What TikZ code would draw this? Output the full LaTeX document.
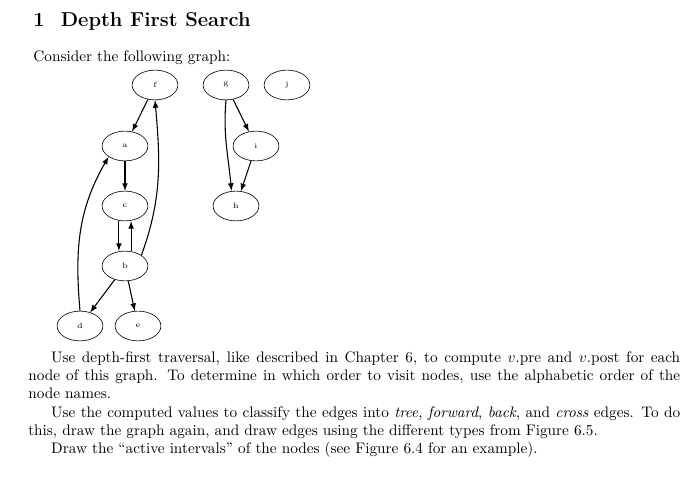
\documentclass[tikz,border=0pt]{standalone}
\usetikzlibrary{shapes.geometric}
\tikzstyle{vertex}=[draw, ellipse, minimum width=30pt, minimum height=19.5pt, inner sep=0pt, font=\tiny]
\tikzstyle{edge}=[draw, -latex, line width=0.25mm]
\begin{document}
\begin{tikzpicture}[x=0.655pt, y=-0.655pt]
	\useasboundingbox (0,0) rectangle (700,483);
	\node[anchor=base west, font=\fontsize{13.2}{16}\selectfont\bfseries] (title) at (28,27) {1\hspace{0.8em}Depth First Search};
	\node[anchor=base west] (intro) at (28,62) {Consider the following graph:};
	\foreach \pos/\name in {{(155,85)/f}, {(226,85)/g}, {(287,85)/j}, {(125,146)/a}, {(256,146)/i},
				{(125,206)/c}, {(236,206)/h}, {(125,266)/b}, {(80,326)/d}, {(138,326)/e}}
		\node[vertex] (\name) at \pos {\name};
	\foreach \source/\dest in {f/a, a/c, b/d, b/e, g/i, i/h}
		\path[edge] (\source) -> (\dest);
	\path[edge] ([xshift=-4pt]c.south) -- ([xshift=-4pt]b.north);
	\path[edge] ([xshift=4pt]b.north) -- ([xshift=4pt]c.south);
	\path[edge] (b.north east) to[out=70, in=-85] (f.south);
	\path[edge] (d.north) to[out=95, in=-120] (a.south west);
	\path[edge] (g.south) to[out=-95, in=95] ([xshift=-3pt]h.north);
	\node[anchor=north west, text width=427pt, align=justify, inner sep=0pt] (text) at (28,351) {%
		\setlength{\parindent}{15pt}\indent Use depth-first traversal, like described in Chapter 6, to compute $v$.pre and $v$.post for each node of this graph. To determine in which order to visit nodes, use the alphabetic order of the node names.\par
		\indent Use the computed values to classify the edges into \emph{tree}, \emph{forward}, \emph{back}, and \emph{cross} edges. To do this, draw the graph again, and draw edges using the different types from Figure 6.5.\par
		\indent Draw the ``active intervals'' of the nodes (see Figure 6.4 for an example).\par};
\end{tikzpicture}
\end{document}
